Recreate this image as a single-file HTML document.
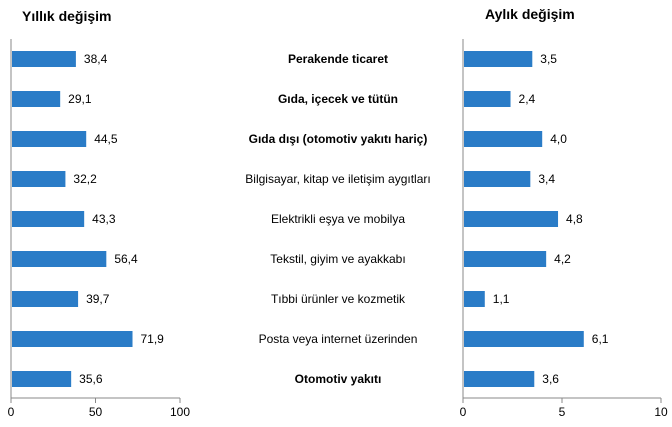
<!DOCTYPE html>
<html><head><meta charset="utf-8"><style>
html,body{margin:0;padding:0;background:#fff;}
svg text{font-family:"Liberation Sans",Arial,sans-serif;fill:#000;}
</style></head><body>
<svg id="chart" width="672" height="422" xmlns="http://www.w3.org/2000/svg">
<text x="22" y="21" font-size="14" font-weight="bold">Yıllık değişim</text>
<text x="485" y="19" font-size="14" font-weight="bold">Aylık değişim</text>
<g id="labels"></g><g id="left"></g><g id="right"></g>
</svg>
<script>
const categories=["Perakende ticaret","Gıda, içecek ve tütün","Gıda dışı (otomotiv yakıtı hariç)","Bilgisayar, kitap ve iletişim aygıtları","Elektrikli eşya ve mobilya","Tekstil, giyim ve ayakkabı","Tıbbi ürünler ve kozmetik","Posta veya internet üzerinden","Otomotiv yakıtı"];
const boldFlags=[1,1,1,0,0,0,0,0,1];
const annualValues=[38.4,29.1,44.5,32.2,43.3,56.4,39.7,71.9,35.6];
const monthlyValues=[3.5,2.4,4.0,3.4,4.8,4.2,1.1,6.1,3.6];
const annualTicks=[0,50,100];
const monthlyTicks=[0,5,10];
const NS="http://www.w3.org/2000/svg";
const rowY=i=>59+i*40;
function mk(tag,attrs,parent){const e=document.createElementNS(NS,tag);for(const k in attrs)e.setAttribute(k,attrs[k]);parent.appendChild(e);return e;}
const lab=document.getElementById('labels');
categories.forEach((c,i)=>{
  const t=mk('text',{x:338,y:rowY(i)+4,'font-size':12,'text-anchor':'middle','font-weight':boldFlags[i]?'bold':'normal'},lab);
  
  
  t.textContent=c;
});
function panel(g,vals,ticks,x0,x1,max){
  const sx=v=>x0+(v/max)*(x1-x0);
  const ax=mk('line',{x1:x0,y1:39,x2:x0,y2:398,stroke:'#888','stroke-width':1},g);
  
  
  const bx=mk('line',{x1:x0,y1:398,x2:x1,y2:398,stroke:'#888','stroke-width':1},g);
  
  
  ticks.forEach(t=>{
    const tm=mk('line',{x1:sx(t),y1:398,x2:sx(t),y2:403,stroke:'#888'},g);
    
    
    const tl=mk('text',{x:sx(t),y:416,'font-size':12,'text-anchor':'middle'},g);
    
    
    tl.textContent=t;
  });
  vals.forEach((v,i)=>{
    const r=mk('rect',{x:x0+1,y:rowY(i)-8,width:sx(v)-x0-1,height:16,fill:'#2a7cc7'},g);
    
    
    const tx=mk('text',{x:sx(v)+8,y:rowY(i)+4,'font-size':12},g);
    
    
    tx.textContent=v.toFixed(1).replace('.',',');
  });
}
panel(document.getElementById('left'),annualValues,annualTicks,11,180,100);
panel(document.getElementById('right'),monthlyValues,monthlyTicks,463,661,10);
</script>
</body></html>
